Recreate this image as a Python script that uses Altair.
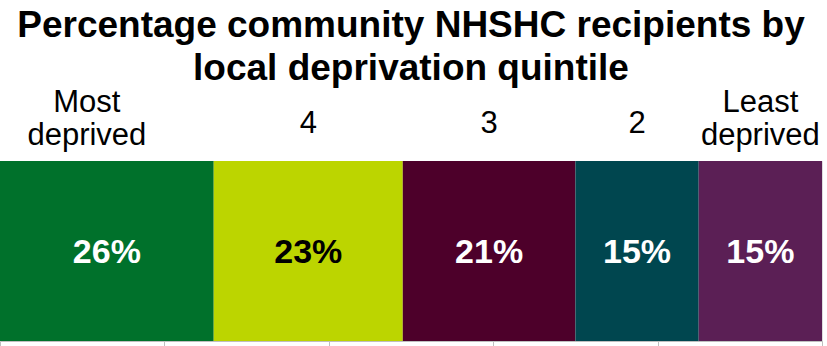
import altair as alt
import pandas as pd

# ---- data ----
quintiles = ["Most deprived", "4", "3", "2", "Least deprived"]
header_lines = ["Most\ndeprived", "4", "3", "2", "Least\ndeprived"]
shares = [26, 23, 21, 15, 15]
colors = ["#00712B", "#BCD500", "#4D002A", "#00464F", "#5B1F55"]
tick_values = [0, 20, 40, 60, 80, 100]
title_lines = ["Percentage community NHSHC recipients by", "local deprivation quintile"]

df = pd.DataFrame({
    "quintile": quintiles,
    "header": header_lines,
    "share": shares,
    "order": list(range(len(quintiles))),
})

FONT = "Liberation Sans"

base = (
    alt.Chart(df)
    .transform_window(cum="sum(share)", sort=[alt.SortField("order")], frame=[None, 0])
    .transform_calculate(
        start="datum.cum - datum.share",
        mid="datum.cum - datum.share / 2",
        pct="datum.share + '%'",
        row="'all'",
        multiline="indexof(datum.header, '\\n') >= 0",
    )
)

xscale = alt.Scale(domain=[0, 100], nice=False, zero=True)
xaxis = alt.Axis(
    values=tick_values, labels=False, title=None, grid=False,
    domainColor="#BFBFBF", tickColor="#BFBFBF", tickSize=5, domainWidth=1, tickWidth=1,
)

bars = base.mark_bar(stroke=None).encode(
    x=alt.X("start:Q", scale=xscale, axis=xaxis),
    x2="cum:Q",
    y=alt.Y("row:N", scale=alt.Scale(paddingInner=0, paddingOuter=0), axis=None),
    color=alt.Color("quintile:N", scale=alt.Scale(domain=quintiles, range=colors), legend=None),
)

pct_text = base.mark_text(
    font=FONT, fontSize=34, fontWeight="bold", baseline="middle", align="center", dy=2
).encode(
    x=alt.X("mid:Q", scale=xscale),
    y=alt.Y("row:N", axis=None),
    text="pct:N",
    color=alt.condition(alt.datum.quintile == "4", alt.value("black"), alt.value("white")),
)

head_common = dict(font=FONT, fontSize=31, baseline="alphabetic", align="center",
                   lineBreak="\n", lineHeight=33, color="black")

head_first = base.transform_filter("datum.order == 0").mark_text(dx=-20, **head_common).encode(
    x=alt.X("mid:Q", scale=xscale), y=alt.value(-49), text="header:N")
head_multi = base.transform_filter("datum.multiline && datum.order != 0").mark_text(**head_common).encode(
    x=alt.X("mid:Q", scale=xscale), y=alt.value(-49), text="header:N")
head_single = base.transform_filter("!datum.multiline").mark_text(**head_common).encode(
    x=alt.X("mid:Q", scale=xscale), y=alt.value(-28), text="header:N")

chart = (
    alt.layer(bars, pct_text, head_first, head_multi, head_single)
    .properties(
        width=822, height=180,
        title=alt.TitleParams(
            text=title_lines, font=FONT, fontSize=37, fontWeight="bold", color="black",
            anchor="middle", lineHeight=43, offset=-1,
        ),
        autosize=alt.AutoSizeParams(type="none"),
        padding={"left": 0, "top": 161, "right": 5, "bottom": 5},
    )
    .configure_view(stroke=None)
    .configure(background="white")
)

chart.save("out.html", embed_options={"renderer": "svg", "actions": False})
